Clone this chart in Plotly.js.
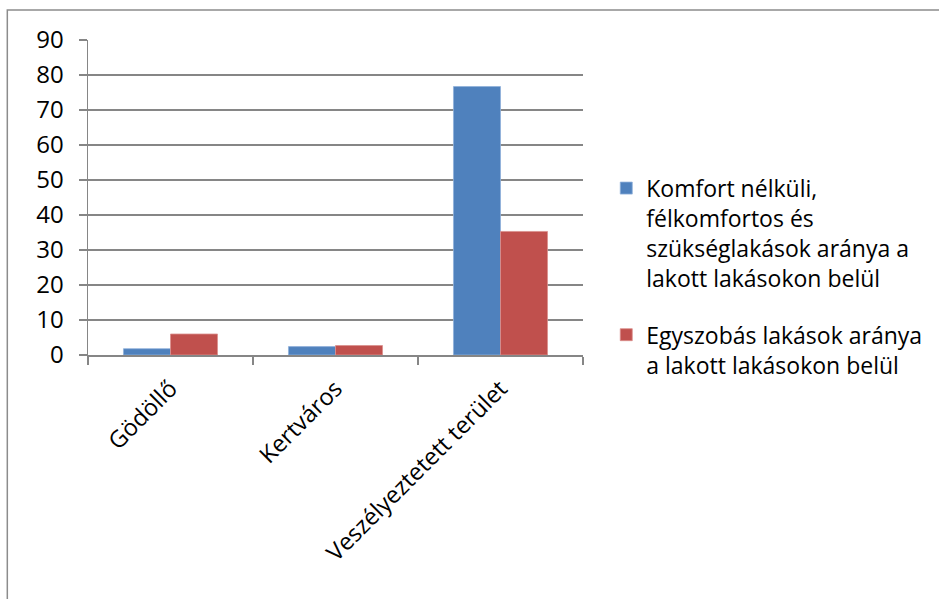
<!DOCTYPE html>
<html>
<head>
<meta charset="utf-8">
<script src="https://cdn.plot.ly/plotly-3.0.1.min.js"></script>
<style>
  html, body { margin: 0; padding: 0; background: #fff; }
  #chart { width: 939px; height: 599px; }
</style>
</head>
<body>
<div id="chart"></div>
<script>
const categories = ["Gödöllő", "Kertváros", "Veszélyeztetett terület"];
const komfortNelkuli = [1.8, 2.4, 76.7];
const egyszobas = [6.0, 2.7, 35.3];
const seriesNames = [
  "Komfort nélküli,<br>félkomfortos és<br>szükséglakások aránya a<br>lakott lakásokon belül",
  "Egyszobás lakások aránya<br>a lakott lakásokon belül"
];
const yTicks = [0, 10, 20, 30, 40, 50, 60, 70, 80, 90];

const font = "'Open Sans', sans-serif";
const gray = "#868686";

const traces = [
  {
    type: "bar", x: categories, y: komfortNelkuli, name: seriesNames[0], legendgroup: "g1",
    marker: { color: "#4F81BD", line: { color: "#8FB0DB", width: 0.8 } },
    hoverinfo: "y"
  },
  {
    type: "bar", x: categories, y: egyszobas, name: seriesNames[1], legendgroup: "g2",
    marker: { color: "#C0504D", line: { color: "#DB8F8D", width: 0.8 } },
    hoverinfo: "y"
  }
];

const layout = {
  width: 939, height: 599,
  margin: { l: 88, r: 354, t: 40, b: 244 },
  paper_bgcolor: "#fff", plot_bgcolor: "#fff",
  font: { family: font, size: 20, color: "#000" },
  barmode: "group",
  bargap: 0.43, bargroupgap: 0,
  showlegend: true,
  legend: {
    x: 1.047, xanchor: "left", y: 0.598, yanchor: "top",
    font: { family: font, size: 23, color: "#000" },
    tracegroupgap: 24, traceorder: "grouped", valign: "top",
    itemwidth: 30
  },
  xaxis: {
    type: "category", tickangle: -45,
    showline: true, linecolor: gray, linewidth: 1.5,
    ticks: "outside", tickson: "boundaries", ticklen: 8, tickcolor: gray, tickwidth: 1.5,
    ticklabelstandoff: 9,
    showgrid: false, zeroline: false,
    tickfont: { family: font, size: 23.5, color: "#000" }
  },
  yaxis: {
    range: [0, 90], tickvals: yTicks, ticktext: yTicks.map(String),
    showline: true, linecolor: gray, linewidth: 1.5,
    ticks: "outside", ticklen: 8, tickcolor: gray, tickwidth: 1.5,
    ticklabelstandoff: 10,
    showgrid: true, gridcolor: gray, gridwidth: 1.5,
    zeroline: false,
    tickfont: { family: font, size: 24, color: "#000" }
  },
  shapes: [
    {
      type: "rect", xref: "paper", yref: "paper",
      x0: -0.163, x1: 2.0, y0: -1.0, y1: 1.095,
      line: { color: "#8c8c8c", width: 1.5 }, fillcolor: "rgba(0,0,0,0)", layer: "below"
    }
  ]
};

Plotly.newPlot("chart", traces, layout, { displayModeBar: false, staticPlot: true });
</script>
</body>
</html>
